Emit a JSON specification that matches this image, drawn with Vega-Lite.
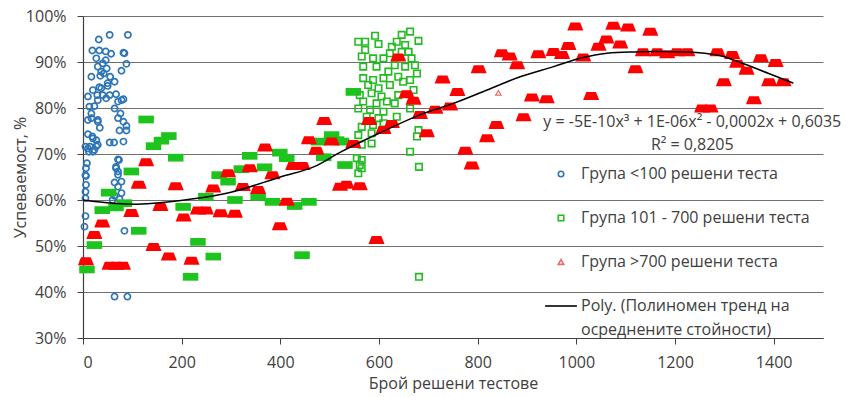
{
"$schema":"https://vega.github.io/schema/vega-lite/v6.json",
"width":740,"height":322,"autosize":"none",
"padding":{"left":83,"top":16,"right":29,"bottom":59},
"background":"white",
"config":{"font":"Open Sans","view":{"stroke":null},"style":{"guide-label":{"lineHeight":24}}},
"datasets":{
"blue":[{"tests":32,"rate":0.949},{"tests":54,"rate":0.959},{"tests":91,"rate":0.959},{"tests":19,"rate":0.925},{"tests":33,"rate":0.925},{"tests":46,"rate":0.923},{"tests":57,"rate":0.918},{"tests":82,"rate":0.92},{"tests":27,"rate":0.908},{"tests":46,"rate":0.904},{"tests":40,"rate":0.897},{"tests":30,"rate":0.89},{"tests":88,"rate":0.896},{"tests":48,"rate":0.886},{"tests":78,"rate":0.881},{"tests":37,"rate":0.879},{"tests":17,"rate":0.868},{"tests":35,"rate":0.87},{"tests":55,"rate":0.868},{"tests":42,"rate":0.875},{"tests":64,"rate":0.857},{"tests":33,"rate":0.845},{"tests":20,"rate":0.839},{"tests":50,"rate":0.848},{"tests":29,"rate":0.828},{"tests":67,"rate":0.83},{"tests":10,"rate":0.825},{"tests":47,"rate":0.821},{"tests":82,"rate":0.819},{"tests":71,"rate":0.814},{"tests":13,"rate":0.803},{"tests":23,"rate":0.804},{"tests":64,"rate":0.799},{"tests":17,"rate":0.788},{"tests":76,"rate":0.788},{"tests":17,"rate":0.778},{"tests":71,"rate":0.778},{"tests":82,"rate":0.77},{"tests":30,"rate":0.77},{"tests":34,"rate":0.757},{"tests":88,"rate":0.761},{"tests":74,"rate":0.751},{"tests":88,"rate":0.751},{"tests":10,"rate":0.743},{"tests":19,"rate":0.738},{"tests":27,"rate":0.73},{"tests":54,"rate":0.725},{"tests":63,"rate":0.725},{"tests":82,"rate":0.727},{"tests":5,"rate":0.716},{"tests":14,"rate":0.716},{"tests":23,"rate":0.709},{"tests":30,"rate":0.72},{"tests":12,"rate":0.705},{"tests":8,"rate":0.68},{"tests":73,"rate":0.687},{"tests":67,"rate":0.672},{"tests":71,"rate":0.662},{"tests":5,"rate":0.654},{"tests":64,"rate":0.638},{"tests":78,"rate":0.64},{"tests":6,"rate":0.633},{"tests":71,"rate":0.629},{"tests":5,"rate":0.618},{"tests":5,"rate":0.604},{"tests":64,"rate":0.609},{"tests":78,"rate":0.615},{"tests":74,"rate":0.602},{"tests":60,"rate":0.6},{"tests":5,"rate":0.565},{"tests":3,"rate":0.542},{"tests":84,"rate":0.533},{"tests":1,"rate":0.467},{"tests":64,"rate":0.39},{"tests":90,"rate":0.39},{"tests":84,"rate":0.919},{"tests":50,"rate":0.854},{"tests":37,"rate":0.843},{"tests":40,"rate":0.828},{"tests":54,"rate":0.828},{"tests":30,"rate":0.817},{"tests":78,"rate":0.817},{"tests":10,"rate":0.774},{"tests":30,"rate":0.774},{"tests":10,"rate":0.712},{"tests":20,"rate":0.705},{"tests":27,"rate":0.717},{"tests":20,"rate":0.734},{"tests":6,"rate":0.669},{"tests":67,"rate":0.669},{"tests":71,"rate":0.655},{"tests":71,"rate":0.688},{"tests":6,"rate":0.652}],
"greenFilled":[{"tests":128,"rate":0.775},{"tests":143,"rate":0.717},{"tests":159,"rate":0.729},{"tests":174,"rate":0.739},{"tests":188,"rate":0.692},{"tests":98,"rate":0.662},{"tests":52,"rate":0.616},{"tests":39,"rate":0.578},{"tests":67,"rate":0.584},{"tests":84,"rate":0.593},{"tests":23,"rate":0.502},{"tests":8,"rate":0.449},{"tests":113,"rate":0.533},{"tests":203,"rate":0.585},{"tests":218,"rate":0.433},{"tests":233,"rate":0.509},{"tests":264,"rate":0.477},{"tests":276,"rate":0.654},{"tests":294,"rate":0.64},{"tests":249,"rate":0.607},{"tests":308,"rate":0.6},{"tests":321,"rate":0.667},{"tests":338,"rate":0.696},{"tests":368,"rate":0.671},{"tests":355,"rate":0.607},{"tests":384,"rate":0.596},{"tests":399,"rate":0.703},{"tests":413,"rate":0.691},{"tests":429,"rate":0.587},{"tests":458,"rate":0.596},{"tests":444,"rate":0.48},{"tests":477,"rate":0.727},{"tests":504,"rate":0.741},{"tests":524,"rate":0.727},{"tests":488,"rate":0.693},{"tests":531,"rate":0.676},{"tests":548,"rate":0.835},{"tests":514,"rate":0.73}],
"greenOpen":[{"tests":592,"rate":0.957},{"tests":663,"rate":0.966},{"tests":572,"rate":0.944},{"tests":599,"rate":0.939},{"tests":646,"rate":0.959},{"tests":636,"rate":0.944},{"tests":680,"rate":0.946},{"tests":626,"rate":0.933},{"tests":653,"rate":0.937},{"tests":646,"rate":0.922},{"tests":660,"rate":0.922},{"tests":622,"rate":0.919},{"tests":565,"rate":0.912},{"tests":588,"rate":0.908},{"tests":609,"rate":0.908},{"tests":666,"rate":0.908},{"tests":568,"rate":0.89},{"tests":595,"rate":0.89},{"tests":632,"rate":0.893},{"tests":653,"rate":0.89},{"tests":673,"rate":0.893},{"tests":619,"rate":0.879},{"tests":677,"rate":0.875},{"tests":568,"rate":0.865},{"tests":588,"rate":0.861},{"tests":609,"rate":0.865},{"tests":639,"rate":0.868},{"tests":649,"rate":0.857},{"tests":663,"rate":0.861},{"tests":578,"rate":0.85},{"tests":599,"rate":0.843},{"tests":622,"rate":0.85},{"tests":670,"rate":0.839},{"tests":561,"rate":0.828},{"tests":585,"rate":0.832},{"tests":605,"rate":0.825},{"tests":639,"rate":0.828},{"tests":568,"rate":0.814},{"tests":595,"rate":0.81},{"tests":616,"rate":0.814},{"tests":632,"rate":0.81},{"tests":558,"rate":0.799},{"tests":582,"rate":0.796},{"tests":609,"rate":0.792},{"tests":663,"rate":0.799},{"tests":575,"rate":0.781},{"tests":599,"rate":0.778},{"tests":636,"rate":0.781},{"tests":565,"rate":0.759},{"tests":588,"rate":0.763},{"tests":609,"rate":0.767},{"tests":680,"rate":0.752},{"tests":558,"rate":0.741},{"tests":585,"rate":0.745},{"tests":565,"rate":0.72},{"tests":585,"rate":0.723},{"tests":677,"rate":0.738},{"tests":663,"rate":0.705},{"tests":555,"rate":0.691},{"tests":565,"rate":0.687},{"tests":561,"rate":0.676},{"tests":681,"rate":0.672},{"tests":565,"rate":0.669},{"tests":558,"rate":0.658},{"tests":681,"rate":0.433},{"tests":558,"rate":0.944},{"tests":572,"rate":0.926}],
"redFilled":[{"tests":6,"rate":0.467},{"tests":23,"rate":0.524},{"tests":39,"rate":0.549},{"tests":54,"rate":0.457},{"tests":67,"rate":0.457},{"tests":81,"rate":0.457},{"tests":98,"rate":0.572},{"tests":113,"rate":0.633},{"tests":128,"rate":0.682},{"tests":143,"rate":0.498},{"tests":157,"rate":0.585},{"tests":174,"rate":0.477},{"tests":188,"rate":0.63},{"tests":204,"rate":0.562},{"tests":220,"rate":0.468},{"tests":233,"rate":0.577},{"tests":249,"rate":0.577},{"tests":264,"rate":0.625},{"tests":279,"rate":0.571},{"tests":294,"rate":0.658},{"tests":308,"rate":0.57},{"tests":324,"rate":0.628},{"tests":338,"rate":0.669},{"tests":355,"rate":0.622},{"tests":369,"rate":0.714},{"tests":384,"rate":0.654},{"tests":399,"rate":0.543},{"tests":413,"rate":0.596},{"tests":426,"rate":0.674},{"tests":445,"rate":0.674},{"tests":458,"rate":0.73},{"tests":473,"rate":0.707},{"tests":489,"rate":0.772},{"tests":504,"rate":0.727},{"tests":521,"rate":0.629},{"tests":534,"rate":0.633},{"tests":548,"rate":0.722},{"tests":561,"rate":0.63},{"tests":580,"rate":0.772},{"tests":595,"rate":0.513},{"tests":609,"rate":0.752},{"tests":626,"rate":0.765},{"tests":639,"rate":0.91},{"tests":656,"rate":0.83},{"tests":670,"rate":0.816},{"tests":683,"rate":0.785},{"tests":697,"rate":0.745},{"tests":714,"rate":0.796},{"tests":729,"rate":0.862},{"tests":744,"rate":0.803},{"tests":759,"rate":0.835},{"tests":775,"rate":0.707},{"tests":788,"rate":0.675},{"tests":802,"rate":0.884},{"tests":819,"rate":0.734},{"tests":838,"rate":0.763},{"tests":849,"rate":0.919},{"tests":865,"rate":0.912},{"tests":880,"rate":0.893},{"tests":893,"rate":0.78},{"tests":910,"rate":0.823},{"tests":923,"rate":0.917},{"tests":940,"rate":0.819},{"tests":954,"rate":0.922},{"tests":971,"rate":0.915},{"tests":984,"rate":0.935},{"tests":998,"rate":0.977},{"tests":1014,"rate":0.91},{"tests":1030,"rate":0.826},{"tests":1045,"rate":0.933},{"tests":1061,"rate":0.949},{"tests":1075,"rate":0.979},{"tests":1089,"rate":0.938},{"tests":1105,"rate":0.975},{"tests":1120,"rate":0.884},{"tests":1135,"rate":0.921},{"tests":1150,"rate":0.966},{"tests":1164,"rate":0.921},{"tests":1184,"rate":0.917},{"tests":1204,"rate":0.921},{"tests":1225,"rate":0.921},{"tests":1255,"rate":0.799},{"tests":1272,"rate":0.799},{"tests":1286,"rate":0.921},{"tests":1299,"rate":0.856},{"tests":1316,"rate":0.915},{"tests":1326,"rate":0.896},{"tests":1345,"rate":0.881},{"tests":1360,"rate":0.817},{"tests":1374,"rate":0.908},{"tests":1391,"rate":0.856},{"tests":1404,"rate":0.898},{"tests":1420,"rate":0.856}],
"redOpen":[{"tests":842,"rate":0.833}],
"trend":[{"tests":0,"rate":0.6},{"tests":60,"rate":0.593},{"tests":110,"rate":0.591},{"tests":220,"rate":0.602},{"tests":300,"rate":0.617},{"tests":400,"rate":0.65},{"tests":470,"rate":0.673},{"tests":520,"rate":0.703},{"tests":600,"rate":0.745},{"tests":683,"rate":0.785},{"tests":751,"rate":0.81},{"tests":819,"rate":0.839},{"tests":886,"rate":0.868},{"tests":954,"rate":0.89},{"tests":1008,"rate":0.908},{"tests":1062,"rate":0.919},{"tests":1120,"rate":0.922},{"tests":1160,"rate":0.923},{"tests":1225,"rate":0.922},{"tests":1290,"rate":0.914},{"tests":1335,"rate":0.898},{"tests":1390,"rate":0.875},{"tests":1440,"rate":0.854}],
"one":[{}]
},
"layer":[
{"data":{"name":"blue"},
 "mark":{"type":"point","filled":false,"size":38,"strokeWidth":1.7,"opacity":1},
 "encoding":{
  "x":{"field":"tests","type":"quantitative","scale":{"domain":[0,1500],"nice":false,"zero":false},
   "axis":{"values":[0,200,400,600,800,1000,1200,1400],"format":"d","title":"Брой решени тестове","grid":false,"tickSize":6,"labelPadding":10,"domainColor":"#404040","tickColor":"#404040","domainWidth":1.2,"labelFontSize":16,"labelColor":"#404040","labelFont":"Open Sans","titleFont":"Open Sans","titleFontSize":16,"titleFontWeight":"normal","titleColor":"#404040","titlePadding":5}},
  "y":{"field":"rate","type":"quantitative","scale":{"domain":[0.3,1.0],"nice":false,"zero":false},
   "axis":{"values":[0.3,0.4,0.5,0.6,0.7,0.8,0.9,1.0],"format":".0%","title":"Успеваемост, %","grid":true,"gridColor":"#6f6f6f","gridWidth":1.2,"tickSize":6,"labelPadding":11,"domainColor":"#404040","tickColor":"#404040","domainWidth":1.2,"labelFontSize":16,"labelColor":"#404040","labelFont":"Open Sans","titleFont":"Open Sans","titleFontSize":16,"titleFontWeight":"normal","titleColor":"#404040","titleX":-63,"titleY":161,"titleAlign":"center","titleBaseline":"middle","titleAngle":-90}},
  "color":{"datum":"Група <100 решени теста","type":"nominal",
   "scale":{"domain":["Група <100 решени теста","Група 101 - 700 решени теста","Група >700 решени теста","Poly. (Полиномен тренд на осреднените стойности)"],"range":["#2e75b6","#22bb22","#e07070","#000000"]},
   "legend":{"orient":"none","legendX":470,"legendY":150,"title":null,"padding":0,"labelFontSize":16,"labelColor":"#404040","labelFont":"Open Sans","labelLimit":400,"rowPadding":28,"labelOffset":12,"symbolSize":30,"symbolStrokeWidth":1.6,
    "labelExpr":"indexof(datum.label,'Poly')===0 ? ['Poly. (Полиномен тренд на','осреднените стойности)'] : datum.label"}},
  "shape":{"datum":"Група <100 решени теста","type":"nominal",
   "scale":{"domain":["Група <100 решени теста","Група 101 - 700 решени теста","Група >700 решени теста","Poly. (Полиномен тренд на осреднените стойности)"],"range":["circle","square","triangle-up","M-5.8,0L5.8,0"]},
   "legend":{"orient":"none","legendX":470,"legendY":150,"title":null,"padding":0,"labelFontSize":16,"labelColor":"#404040","labelFont":"Open Sans","labelLimit":400,"rowPadding":28,"labelOffset":12,"symbolSize":30,"symbolStrokeWidth":1.6,
    "labelExpr":"indexof(datum.label,'Poly')===0 ? ['Poly. (Полиномен тренд на','осреднените стойности)'] : datum.label"}}
 }},
{"data":{"name":"greenFilled"},
 "mark":{"type":"point","shape":"M-1,-0.5L1,-0.5L1,0.5L-1,0.5Z","filled":true,"size":240,"color":"#1dc41d","opacity":1},
 "encoding":{"x":{"field":"tests","type":"quantitative"},"y":{"field":"rate","type":"quantitative"}}},
{"data":{"name":"greenOpen"},
 "mark":{"type":"point","filled":false,"size":42,"strokeWidth":1.6,"opacity":1},
 "encoding":{"x":{"field":"tests","type":"quantitative"},"y":{"field":"rate","type":"quantitative"},
  "color":{"datum":"Група 101 - 700 решени теста","type":"nominal"},
  "shape":{"datum":"Група 101 - 700 решени теста","type":"nominal"}}},
{"data":{"name":"redFilled"},
 "mark":{"type":"point","shape":"M-1,0.5L-0.6,-0.5L0.6,-0.5L1,0.5Z","filled":true,"size":256,"color":"#ff0000","opacity":1},
 "encoding":{"x":{"field":"tests","type":"quantitative"},"y":{"field":"rate","type":"quantitative"}}},
{"data":{"name":"redOpen"},
 "mark":{"type":"point","filled":false,"size":30,"strokeWidth":1.2,"opacity":1},
 "encoding":{"x":{"field":"tests","type":"quantitative"},"y":{"field":"rate","type":"quantitative"},
  "color":{"datum":"Група >700 решени теста","type":"nominal"},
  "shape":{"datum":"Група >700 решени теста","type":"nominal"}}},
{"data":{"name":"trend"},
 "mark":{"type":"line","strokeWidth":1.5,"interpolate":"monotone"},
 "encoding":{"x":{"field":"tests","type":"quantitative"},"y":{"field":"rate","type":"quantitative"},
  "color":{"datum":"Poly. (Полиномен тренд на осреднените стойности)","type":"nominal"}}},
{"data":{"name":"one"},
 "mark":{"type":"text","text":"y = -5E-10x³ + 1E-06x² - 0,0002x + 0,6035","align":"center","baseline":"middle","fontSize":16,"font":"Open Sans","color":"#404040"},
 "encoding":{"x":{"datum":1235,"type":"quantitative"},"y":{"datum":0.7685,"type":"quantitative"}}},
{"data":{"name":"one"},
 "mark":{"type":"text","text":"R² = 0,8205","align":"center","baseline":"middle","fontSize":16,"font":"Open Sans","color":"#404040"},
 "encoding":{"x":{"datum":1235,"type":"quantitative"},"y":{"datum":0.7196,"type":"quantitative"}}}
]
}
